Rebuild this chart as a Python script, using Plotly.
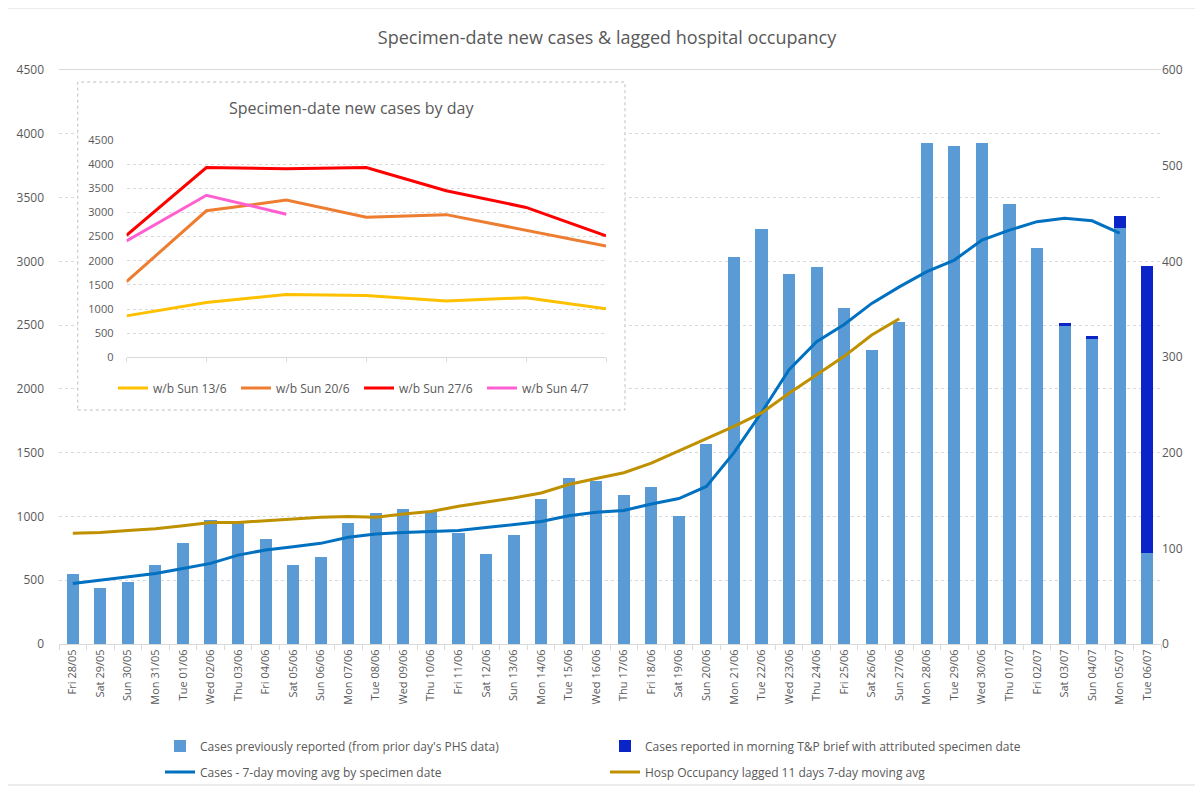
import plotly.graph_objects as go

# ---------------- data ----------------
dates = ["Fri 28/05", "Sat 29/05", "Sun 30/05", "Mon 31/05", "Tue 01/06", "Wed 02/06", "Thu 03/06",
         "Fri 04/06", "Sat 05/06", "Sun 06/06", "Mon 07/06", "Tue 08/06", "Wed 09/06", "Thu 10/06",
         "Fri 11/06", "Sat 12/06", "Sun 13/06", "Mon 14/06", "Tue 15/06", "Wed 16/06", "Thu 17/06",
         "Fri 18/06", "Sat 19/06", "Sun 20/06", "Mon 21/06", "Tue 22/06", "Wed 23/06", "Thu 24/06",
         "Fri 25/06", "Sat 26/06", "Sun 27/06", "Mon 28/06", "Tue 29/06", "Wed 30/06", "Thu 01/07",
         "Fri 02/07", "Sat 03/07", "Sun 04/07", "Mon 05/07", "Tue 06/07"]

cases_prev_reported = [545, 436, 487, 618, 794, 973, 948, 824, 616, 680, 948, 1030, 1062, 1045,
                       869, 706, 858, 1137, 1300, 1279, 1168, 1234, 1004, 1567, 3034, 3255, 2902, 2954,
                       2634, 2306, 2527, 3929, 3904, 3929, 3448, 3104, 2492, 2394, 3259, 712]

cases_morning_brief = [0, 0, 0, 0, 0, 0, 0, 0, 0, 0, 0, 0, 0, 0,
                       0, 0, 0, 0, 0, 0, 0, 0, 0, 0, 0, 0, 0, 0,
                       0, 0, 0, 0, 0, 0, 0, 0, 22, 18, 96, 2251]

cases_7day_avg = [474, 500, 526, 553, 592, 632, 697, 737, 763, 789, 837, 863, 874, 882,
                  889, 913, 939, 960, 1005, 1032, 1047, 1098, 1140, 1235, 1500, 1815, 2150, 2370,
                  2505, 2670, 2800, 2919, 3010, 3167, 3245, 3311, 3337, 3318, 3222, None]

hosp_occupancy_lagged = [115.8, 116.5, 118.6, 120.4, 123.5, 127.0, 127.0, 128.8, 130.5, 132.6,
                         133.3, 132.6, 135.8, 138.6, 143.9, 148.0, 152.6, 157.9, 166.7, 173.0,
                         179.0, 189.0, 202.0, 215.0, 227.5, 241.5, 262.0, 281.5, 300.7, 323.0, 340.0]

# inset: specimen-date cases by day of week, for weeks beginning on Sundays
inset_days = [0, 1, 2, 3, 4, 5, 6]
wb_13_6 = [858, 1137, 1300, 1279, 1168, 1234, 1004]
wb_20_6 = [1567, 3034, 3255, 2902, 2954, 2634, 2306]
wb_27_6 = [2527, 3929, 3904, 3929, 3448, 3104, 2514]
wb_4_7 = [2412, 3355, 2963]

left_ticks = list(range(0, 4501, 500))
right_ticks = list(range(0, 601, 100))

# ---------------- styling ----------------
FONT = "Open Sans, Liberation Sans, sans-serif"
GREY = "#595959"
GRID = "#d9d9d9"
LIGHT_BLUE = "#5B9BD5"
DARK_BLUE = "#0A24C8"
LINE_BLUE = "#0070C0"
GOLD = "#BF9000"

fig = go.Figure()

fig.add_trace(go.Bar(x=dates, y=cases_prev_reported, name="Cases previously reported (from prior day's PHS data)",
                     marker=dict(color=LIGHT_BLUE, line=dict(width=0)), legend="legend"))
fig.add_trace(go.Bar(x=dates, y=cases_morning_brief,
                     name="Cases reported in morning T&P brief with attributed specimen date",
                     marker=dict(color=DARK_BLUE, line=dict(width=0)), legend="legend"))
fig.add_trace(go.Scatter(x=dates, y=cases_7day_avg, mode="lines", name="Cases - 7-day moving avg by specimen date",
                         line=dict(color=LINE_BLUE, width=3), legend="legend3"))
fig.add_trace(go.Scatter(x=dates[:len(hosp_occupancy_lagged)], y=hosp_occupancy_lagged, mode="lines",
                         name="Hosp Occupancy lagged 11 days 7-day moving avg",
                         line=dict(color=GOLD, width=3), yaxis="y2", legend="legend3"))

# inset traces
inset_series = [("w/b Sun 13/6", wb_13_6, "#FFC000"), ("w/b Sun 20/6", wb_20_6, "#ED7D31"),
                ("w/b Sun 27/6", wb_27_6, "#FF0000"), ("w/b Sun 4/7", wb_4_7, "#FF5FD0")]
for name, vals, col in inset_series:
    fig.add_trace(go.Scatter(x=inset_days[:len(vals)], y=vals, mode="lines", name=name,
                             line=dict(color=col, width=3), xaxis="x3", yaxis="y3", legend="legend2"))

# geometry: page has an 8px body margin, so the figure is drawn 8px right/down
OFF = 8
W, H = 1203 - OFF, 788 - OFF
PL, PT, PW, PH = 59, 70, 1102, 574   # plot area in page pixels
L, T = PL - OFF, PT - OFF
R, B = W - L - PW, H - T - PH


def px_x(px):
    return (px - PL) / PW


def px_y(py):
    return (PT + PH - py) / PH


fig.update_layout(
    width=W, height=H,
    margin=dict(l=L, r=R, t=T, b=B, autoexpand=False),
    paper_bgcolor="white", plot_bgcolor="white",
    font=dict(family=FONT, color=GREY),
    barmode="stack", bargap=0.56,
    title=dict(text="Specimen-date new cases & lagged hospital occupancy", x=(607 - OFF) / W, xanchor="center",
               y=1 - (38 - OFF) / H, yanchor="middle", font=dict(size=18, color=GREY, family=FONT)),
    xaxis=dict(type="category", range=[-0.5, len(dates) - 0.5], tickangle=-90, tickson="boundaries",
               ticks="outside", ticklen=5, tickcolor=GRID, showline=True, linecolor=GRID, mirror=True,
               showgrid=False, tickfont=dict(size=11, color=GREY)),
    yaxis=dict(range=[0, 4500], tickvals=left_ticks, showgrid=True, gridcolor=GRID, griddash="dot",
               zeroline=False, tickfont=dict(size=12, color=GREY), ticklabelstandoff=14),
    yaxis2=dict(range=[0, 600], tickvals=right_ticks, overlaying="y", side="right", showgrid=False,
                zeroline=False, tickfont=dict(size=12, color=GREY), ticklabelstandoff=0),
    xaxis3=dict(domain=[px_x(126.5), px_x(606)], anchor="y3", range=[0, 6], tickvals=inset_days,
                showticklabels=False, ticks="outside", ticklen=4, tickcolor=GRID, showline=True,
                linecolor=GRID, showgrid=False, zeroline=False),
    yaxis3=dict(domain=[px_y(357.3), px_y(140)], anchor="x3", range=[0, 4500], tickvals=left_ticks,
                showgrid=True, gridcolor=GRID, griddash="dot", zeroline=False,
                tickfont=dict(size=11, color=GREY), ticklabelstandoff=12),
    legend=dict(orientation="h", x=px_x(160), y=px_y(746), xanchor="left", yanchor="middle",
                entrywidth=400, entrywidthmode="pixels", itemwidth=30,
                font=dict(size=12, color=GREY), bgcolor="rgba(0,0,0,0)", traceorder="normal"),
    legend3=dict(orientation="h", x=px_x(160), y=px_y(772), xanchor="left", yanchor="middle",
                 entrywidth=400, entrywidthmode="pixels", itemwidth=30,
                 font=dict(size=12, color=GREY), bgcolor="rgba(0,0,0,0)", traceorder="normal"),
    legend2=dict(orientation="h", x=px_x(113), y=px_y(388), xanchor="left", yanchor="middle",
                 entrywidth=78, entrywidthmode="pixels", itemwidth=30,
                 font=dict(size=12, color=GREY), bgcolor="rgba(0,0,0,0)", traceorder="normal"),
    annotations=[dict(text="Specimen-date new cases by day", xref="paper", yref="paper",
                      x=px_x(351), y=px_y(108), xanchor="center", yanchor="middle", showarrow=False,
                      font=dict(size=16, color=GREY, family=FONT))],
    shapes=[
        # inset chart area (white box hiding main gridlines, under the traces)
        dict(type="rect", xref="x", yref="y", layer="between",
             x0=(78 - 73) / 27.54, x1=(625 - 73) / 27.54,
             y0=(644 - 410) / 0.12756, y1=(644 - 82) / 0.12756,
             fillcolor="white", line=dict(color="#bfbfbf", width=1, dash="dot")),
        # outer chart frame
        dict(type="rect", xref="paper", yref="paper", layer="below",
             x0=px_x(5), x1=px_x(1197), y0=px_y(785), y1=px_y(8),
             fillcolor="rgba(0,0,0,0)", line=dict(color=GRID, width=1)),
    ],
)

fig.write_html("out.html")
